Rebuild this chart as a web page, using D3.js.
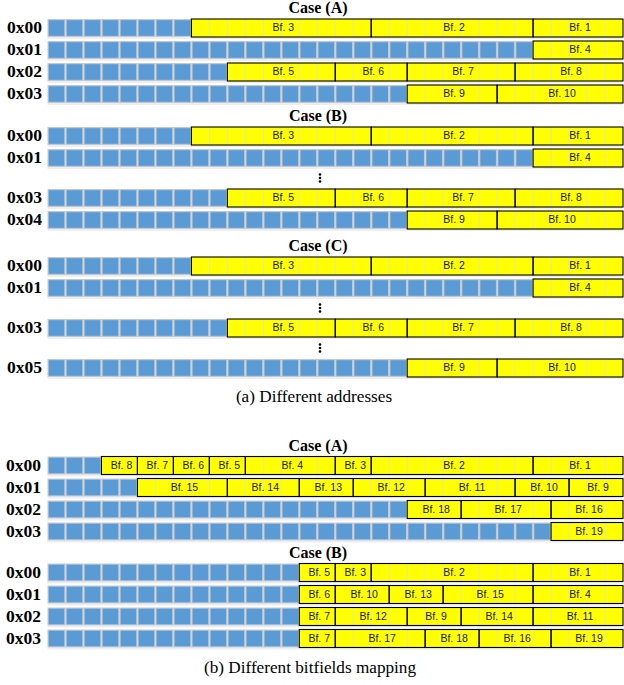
<!DOCTYPE html>
<html><head><meta charset="utf-8">
<script src="https://cdn.jsdelivr.net/npm/d3@7"></script>
<style>body{margin:0;background:#fff}svg{display:block}</style>
</head><body><script>
const TOTAL_BITS = 32;
const ELLIPSIS = "⋮";

// (a) Different addresses
const a_caseA_rows = ["0x00", "0x01", "0x02", "0x03"];
const a_caseA_fields = [
  [["Bf. 3", 8, 18], ["Bf. 2", 18, 27], ["Bf. 1", 27, 32]],
  [["Bf. 4", 27, 32]],
  [["Bf. 5", 10, 16], ["Bf. 6", 16, 20], ["Bf. 7", 20, 26], ["Bf. 8", 26, 32]],
  [["Bf. 9", 20, 25], ["Bf. 10", 25, 32]]
];
const a_caseB_rows = ["0x00", "0x01", ELLIPSIS, "0x03", "0x04"];
const a_caseB_fields = [
  [["Bf. 3", 8, 18], ["Bf. 2", 18, 27], ["Bf. 1", 27, 32]],
  [["Bf. 4", 27, 32]],
  null,
  [["Bf. 5", 10, 16], ["Bf. 6", 16, 20], ["Bf. 7", 20, 26], ["Bf. 8", 26, 32]],
  [["Bf. 9", 20, 25], ["Bf. 10", 25, 32]]
];
const a_caseC_rows = ["0x00", "0x01", ELLIPSIS, "0x03", ELLIPSIS, "0x05"];
const a_caseC_fields = [
  [["Bf. 3", 8, 18], ["Bf. 2", 18, 27], ["Bf. 1", 27, 32]],
  [["Bf. 4", 27, 32]],
  null,
  [["Bf. 5", 10, 16], ["Bf. 6", 16, 20], ["Bf. 7", 20, 26], ["Bf. 8", 26, 32]],
  null,
  [["Bf. 9", 20, 25], ["Bf. 10", 25, 32]]
];

// (b) Different bitfields mapping
const b_caseA_rows = ["0x00", "0x01", "0x02", "0x03"];
const b_caseA_fields = [
  [["Bf. 8", 3, 5], ["Bf. 7", 5, 7], ["Bf. 6", 7, 9], ["Bf. 5", 9, 11], ["Bf. 4", 11, 16],
   ["Bf. 3", 16, 18], ["Bf. 2", 18, 27], ["Bf. 1", 27, 32]],
  [["Bf. 15", 5, 10], ["Bf. 14", 10, 14], ["Bf. 13", 14, 17], ["Bf. 12", 17, 21],
   ["Bf. 11", 21, 26], ["Bf. 10", 26, 29], ["Bf. 9", 29, 32]],
  [["Bf. 18", 20, 23], ["Bf. 17", 23, 28], ["Bf. 16", 28, 32]],
  [["Bf. 19", 28, 32]]
];
const b_caseB_rows = ["0x00", "0x01", "0x02", "0x03"];
const b_caseB_fields = [
  [["Bf. 5", 14, 16], ["Bf. 3", 16, 18], ["Bf. 2", 18, 27], ["Bf. 1", 27, 32]],
  [["Bf. 6", 14, 16], ["Bf. 10", 16, 19], ["Bf. 13", 19, 22], ["Bf. 15", 22, 27], ["Bf. 4", 27, 32]],
  [["Bf. 7", 14, 16], ["Bf. 12", 16, 20], ["Bf. 9", 20, 23], ["Bf. 14", 23, 27], ["Bf. 11", 27, 32]],
  [["Bf. 7", 14, 16], ["Bf. 17", 16, 21], ["Bf. 18", 21, 24], ["Bf. 16", 24, 28], ["Bf. 19", 28, 32]]
];

const caseTitles = ["Case (A)", "Case (B)", "Case (C)", "Case (A)", "Case (B)"];
const captions = ["(a) Different addresses", "(b) Different bitfields mapping"];

// ---- layout ----
const W = 624, H = 685;
const svg = d3.select("body").append("svg").attr("width", W).attr("height", H);
const x = d3.scaleLinear().domain([0, TOTAL_BITS]).range([47.5, 623]);
const ROW_H = 18, ROW_PITCH = 22, DOTS_H = 18;

const sections = [
  {title: caseTitles[0], rows: a_caseA_rows, fields: a_caseA_fields, top: 19, labX: 42},
  {title: caseTitles[1], rows: a_caseB_rows, fields: a_caseB_fields, top: 127, labX: 42},
  {title: caseTitles[2], rows: a_caseC_rows, fields: a_caseC_fields, top: 257, labX: 42},
  {title: caseTitles[3], rows: b_caseA_rows, fields: b_caseA_fields, top: 456.5, labX: 41},
  {title: caseTitles[4], rows: b_caseB_rows, fields: b_caseB_fields, top: 563.5, labX: 41}
];

const serif = "'Liberation Serif','DejaVu Serif',serif";
const sans = "'Liberation Sans','Open Sans',sans-serif";

sections.forEach(sec => {
  const g = svg.append("g");
  g.append("text").text(sec.title)
    .attr("x", 318).attr("y", sec.top - 9.5)
    .attr("text-anchor", "middle").attr("dominant-baseline", "middle")
    .attr("font-family", serif).attr("font-weight", "bold").attr("font-size", 16)
    .attr("fill", "#000");
  let cur = sec.top;
  sec.rows.forEach((addr, i) => {
    if (addr === ELLIPSIS) {
      const cy = cur + 7;
      [-3.5, 0, 3.5].forEach(dy => {
        g.append("circle").attr("cx", 320).attr("cy", cy + dy).attr("r", 1.3).attr("fill", "#000");
      });
      cur += DOTS_H;
      return;
    }
    const y0 = cur;
    const fields = sec.fields[i];
    const covered = new Set();
    fields.forEach(f => { for (let b = f[1]; b < f[2]; b++) covered.add(b); });
    const free = d3.range(TOTAL_BITS).filter(b => !covered.has(b));
    g.append("text").text(addr)
      .attr("x", sec.labX).attr("y", y0 + ROW_H / 2 + 1)
      .attr("text-anchor", "end").attr("dominant-baseline", "middle")
      .attr("font-family", serif).attr("font-weight", "bold").attr("font-size", 17.5)
      .attr("fill", "#000");
    g.append("rect").attr("x", x(0)).attr("y", y0 + ROW_H).attr("width", x(TOTAL_BITS) - x(0))
      .attr("height", 2).attr("fill", "#eceef1");
    g.selectAll(null).data(free).enter().append("rect")
      .attr("x", b => x(b)).attr("y", y0).attr("width", x(1) - x(0)).attr("height", ROW_H)
      .attr("fill", "#c3c8ce");
    g.selectAll(null).data(free).enter().append("rect")
      .attr("x", b => x(b) + 1.2).attr("y", y0 + 1.2)
      .attr("width", x(1) - x(0) - 2.4).attr("height", ROW_H - 2.4)
      .attr("fill", "#5b9bd5");
    fields.forEach(f => {
      const [label, s, e] = f;
      g.append("rect").attr("x", x(s)).attr("y", y0).attr("width", x(e) - x(s)).attr("height", ROW_H)
        .attr("fill", "#ffff00");
      d3.range(s + 1, e).forEach(b => {
        g.append("line").attr("x1", x(b)).attr("x2", x(b)).attr("y1", y0 + 0.5).attr("y2", y0 + ROW_H - 0.5)
          .attr("stroke", "#e6e69a").attr("stroke-width", 1);
      });
    });
    fields.forEach(f => {
      const [label, s, e] = f;
      g.append("rect").attr("x", x(s)).attr("y", y0).attr("width", x(e) - x(s)).attr("height", ROW_H)
        .attr("fill", "none").attr("stroke", "#000").attr("stroke-width", 1.1);
      g.append("text").text(label)
        .attr("x", (x(s) + x(e)) / 2 + 2).attr("y", y0 + ROW_H / 2 + 0.5)
        .attr("text-anchor", "middle").attr("dominant-baseline", "middle")
        .attr("font-family", sans).attr("font-size", 10.5).attr("fill", "#1a1a1a");
    });
    cur += ROW_PITCH;
  });
});

svg.append("text").text(captions[0])
  .attr("x", 314).attr("y", 398).attr("text-anchor", "middle").attr("dominant-baseline", "middle")
  .attr("font-family", serif).attr("font-size", 17.2).attr("fill", "#000");
svg.append("text").text(captions[1])
  .attr("x", 310).attr("y", 669).attr("text-anchor", "middle").attr("dominant-baseline", "middle")
  .attr("font-family", serif).attr("font-size", 17.2).attr("fill", "#000");
</script></body></html>
